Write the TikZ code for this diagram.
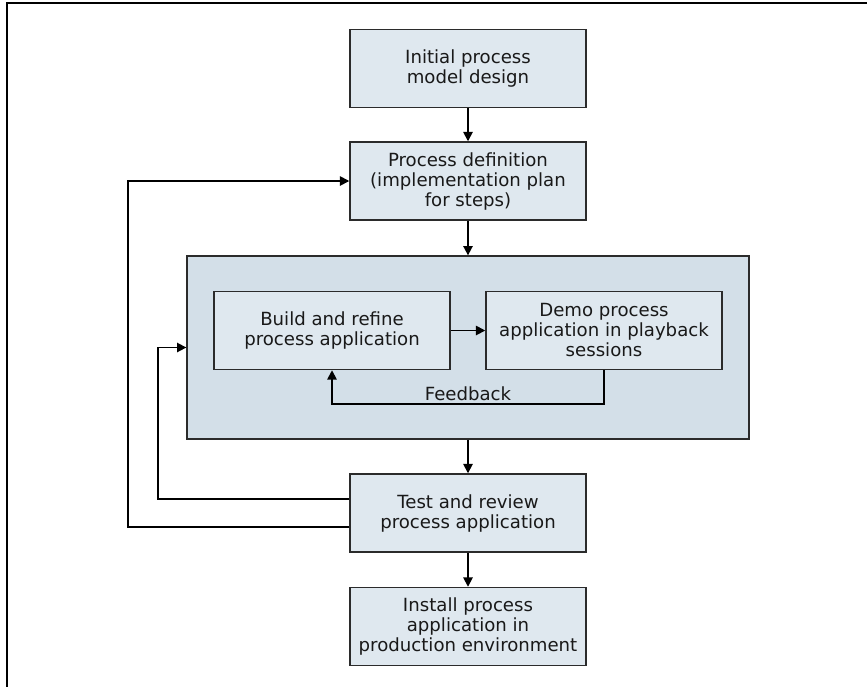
\documentclass[tikz,border=0pt]{standalone}
\usepackage{fontspec}
\setmainfont{DejaVu Sans}
\usepackage{tikz}
\usetikzlibrary{arrows.meta}

\definecolor{boxfill}{HTML}{DFE8EF}
\definecolor{phasefill}{HTML}{D3DFE8}
\definecolor{edge}{HTML}{2B2B2B}

\begin{document}
\begin{tikzpicture}[x=0.75pt,y=-0.75pt,
  stepbox/.style={draw=edge,line width=1.1pt,fill=boxfill,align=center,
    minimum width=177pt,minimum height=58.5pt,inner sep=0pt,
    font=\fontsize{13.6}{15}\selectfont,text=black!90},
  arr/.style={line width=1.3pt,-{Triangle[length=7pt,width=7pt]}}]
\useasboundingbox (0,0) rectangle (867,687);

% frame
\draw[line width=1pt] (867,3) -- (7,3) -- (7,687);

% outer phase box
\node[draw=edge,line width=1pt,fill=phasefill,minimum width=421.5pt,
  minimum height=137.25pt] (phase) at (468,347.5) {};

% boxes down the middle
\node[stepbox] (init) at (468,68.5) {Initial process\\model design};
\node[stepbox] (def) at (468,181) {Process definition\\(implementation plan\\for steps)};
\node[stepbox] (test) at (468,513) {Test and review\\process application};
\node[stepbox] (install) at (468,626.5) {Install process\\application in\\production environment};

% playback loop inside the phase box
\node[stepbox] (build) at (332,330.5) {Build and refine\\process application};
\node[stepbox] (demo) at (604,330.5) {Demo process\\application in playback\\sessions};

\foreach \a/\b in {init/def, def/phase, phase/test, test/install}
    \draw[arr] (\a) -- (\b);

\draw[arr] (build) -- (demo);
\draw[arr] (demo.south) -- ++(0,34) -| (build.south);
\node[anchor=base,font=\fontsize{13.6}{15}\selectfont,text=black!90] (fb) at (468,400) {Feedback};

% loops back from testing
\draw[arr] ([yshift=10.5pt]test.west) -- ++(-191,0) |- (phase.west);
\draw[arr] ([yshift=-10.5pt]test.west) -- ++(-221,0) |- (def.west);
\end{tikzpicture}
\end{document}
